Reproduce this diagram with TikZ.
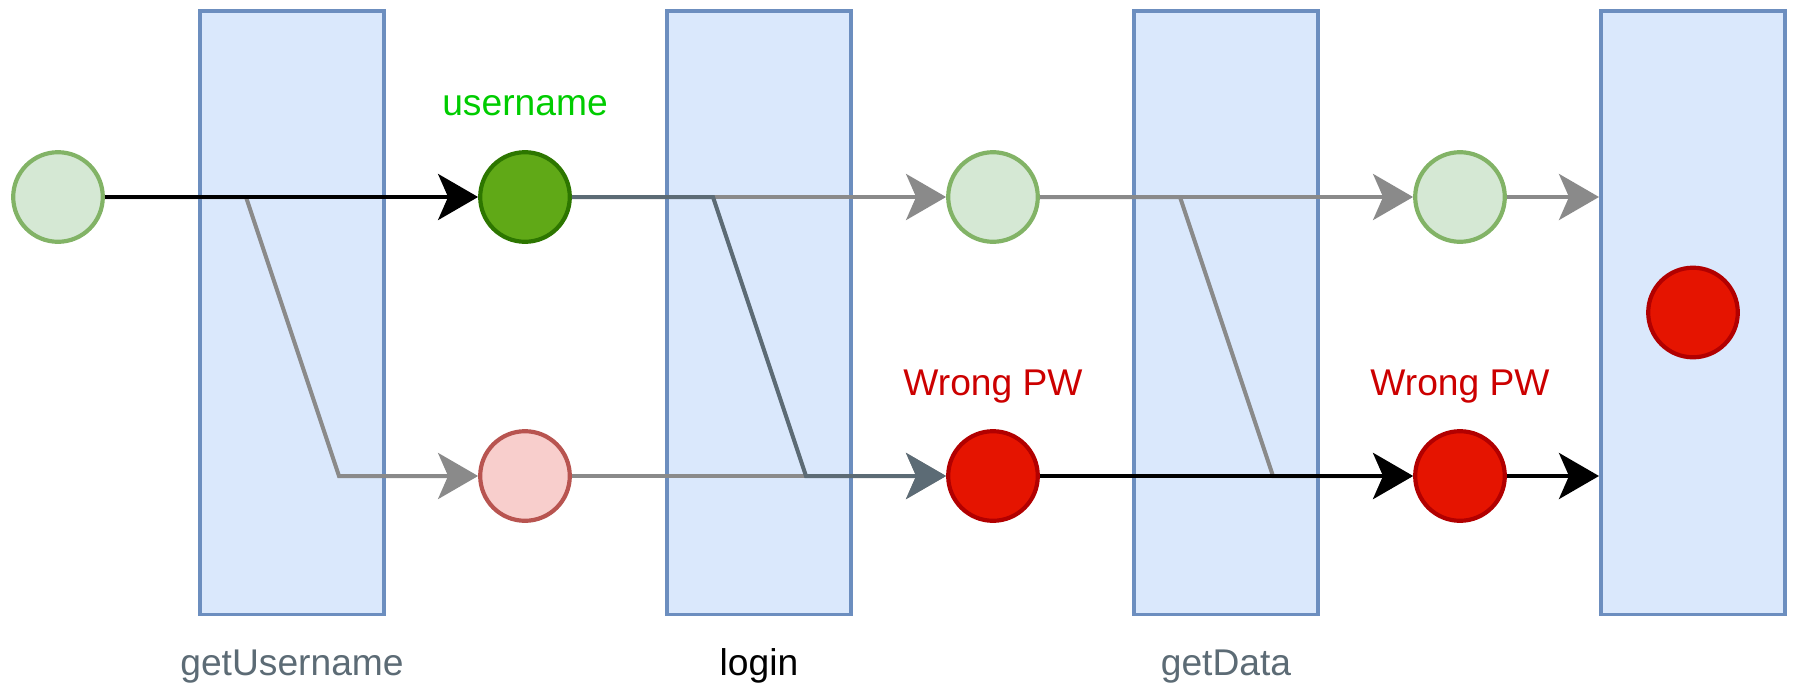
\documentclass[tikz,border=0pt]{standalone}
\usepackage{fontspec}
\setmainfont{Liberation Sans}
\usetikzlibrary{arrows.meta}
\definecolor{boxfill}{HTML}{DAE8FC}
\definecolor{boxline}{HTML}{6C8EBF}
\definecolor{okfill}{HTML}{D5E8D4}
\definecolor{okline}{HTML}{82B366}
\definecolor{userfill}{HTML}{60A917}
\definecolor{userline}{HTML}{2D7600}
\definecolor{badfill}{HTML}{F8CECC}
\definecolor{badline}{HTML}{B85450}
\definecolor{errfill}{HTML}{E51400}
\definecolor{errline}{HTML}{B20000}
\definecolor{flowgray}{HTML}{8A8A8A}
\definecolor{slate}{HTML}{5C6B75}
\definecolor{oktext}{HTML}{00CC00}
\definecolor{errtext}{HTML}{CC0000}
\begin{document}
\begin{tikzpicture}[x=0.5pt,y=-0.5pt,
  fnbox/.style={draw=boxline,fill=boxfill,line width=1.8pt,
    minimum width=92.2pt,minimum height=301.8pt,inner sep=0pt},
  token/.style={circle,line width=2.1pt,minimum size=44.8pt,inner sep=0pt},
  okdot/.style={token,draw=okline,fill=okfill},
  userdot/.style={token,draw=userline,fill=userfill},
  baddot/.style={token,draw=badline,fill=badfill},
  errdot/.style={token,draw=errline,fill=errfill},
  txt/.style={font=\fontsize{18.6pt}{22pt}\selectfont,anchor=base,inner sep=0pt},
  flow/.style={line width=2pt,-{Stealth[length=20pt,width=23pt,inset=5pt]}},
  grayflow/.style={flow,draw=flowgray,color=flowgray},
  slateflow/.style={flow,draw=slate,color=slate},
  blackflow/.style={flow,draw=black,color=black}]
\useasboundingbox (0,0) rectangle (1795,685);

% function boxes
\node[fnbox] (f1) at (292,312.5) {};
\node[fnbox] (f2) at (759,312.5) {};
\node[fnbox] (f3) at (1226,312.5) {};
\node[fnbox] (f4) at (1693,312.5) {};

% function names
\node[txt,text=slate] (l1) at (292,675) {getUsername};
\node[txt,text=black] (l2) at (759,675) {login};
\node[txt,text=slate] (l3) at (1226,675) {getData};

% tokens
\node[okdot]   (c1) at (58,197) {};
\node[userdot] (ug) at (525,197) {};
\node[okdot]   (c3) at (993,197) {};
\node[okdot]   (c4) at (1460,197) {};
\node[baddot]  (pr) at (525,476) {};
\node[errdot]  (e1) at (993,476) {};
\node[errdot]  (e2) at (1460,476) {};
\node[errdot]  (e3) at (1693,312.5) {};

% token labels
\node[txt,text=oktext]  (tu) at (525,115) {username};
\node[txt,text=errtext] (tw1) at (993,395) {Wrong PW};
\node[txt,text=errtext] (tw2) at (1460,395) {Wrong PW};

% branch points inside the boxes
\coordinate (a1) at (246,197);  \coordinate (b1) at (339,476);
\coordinate (a2) at (713,197);  \coordinate (b2) at (806,476);
\coordinate (a3) at (1180,197); \coordinate (b3) at (1273,476);
\coordinate (t4) at (f4.west |- c4);
\coordinate (u4) at (f4.west |- e2);

% untaken paths
\draw[grayflow] (c1) -- (a1) -- (b1) -- (pr);
\draw[grayflow] (pr) -- (e1);
\draw[grayflow] (ug) -- (c3);
\draw[grayflow] (c3) -- (c4);
\draw[grayflow] (c3) -- (a3) -- (b3) -- (e2);
\draw[grayflow] (c4) -- (t4);

% taken paths
\draw[slateflow] (ug) -- (a2) -- (b2) -- (e1);
\draw[blackflow] (c1) -- (ug);
\draw[blackflow] (e1) -- (e2);
\draw[blackflow] (e2) -- (u4);
\end{tikzpicture}
\end{document}
